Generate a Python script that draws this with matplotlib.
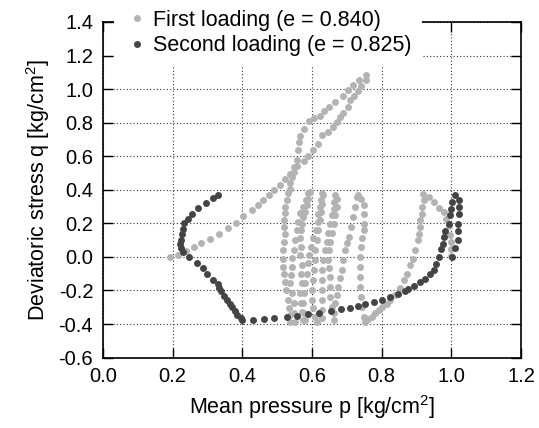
import matplotlib
matplotlib.use("Agg")
import matplotlib.pyplot as plt

plt.rcParams['font.family'] = ['Liberation Sans', 'DejaVu Sans']
plt.rcParams['mathtext.default'] = 'regular'
plt.rcParams['axes.unicode_minus'] = False

# first loading (e = 0.840): p, q pairs
first_ramp_up = [
    (0.193, 0.000), (0.214, 0.014), (0.237, 0.036), (0.260, 0.060), (0.281, 0.082),
    (0.307, 0.107), (0.333, 0.139), (0.358, 0.175), (0.383, 0.205), (0.403, 0.242),
    (0.427, 0.278), (0.445, 0.310), (0.460, 0.342), (0.476, 0.371), (0.492, 0.397),
    (0.507, 0.431), (0.524, 0.467), (0.537, 0.496), (0.547, 0.536), (0.557, 0.576),
    (0.560, 0.635), (0.563, 0.685), (0.567, 0.720), (0.578, 0.765), (0.592, 0.808),
    (0.606, 0.828), (0.622, 0.840), (0.635, 0.869), (0.650, 0.893), (0.665, 0.925),
    (0.688, 0.957), (0.703, 0.992), (0.719, 1.022), (0.736, 1.052), (0.756, 1.082),
]
first_ramp_down = [
    (0.754, 1.052), (0.741, 1.018), (0.732, 0.986), (0.721, 0.960), (0.710, 0.933),
    (0.702, 0.895), (0.690, 0.860), (0.681, 0.833), (0.671, 0.804), (0.660, 0.775),
    (0.645, 0.745), (0.630, 0.724), (0.617, 0.675), (0.604, 0.635), (0.590, 0.600),
    (0.576, 0.570), (0.557, 0.540), (0.547, 0.506), (0.542, 0.476), (0.538, 0.440),
    (0.537, 0.405),
]
first_cycles = [
    # leftmost leg
    (0.530, 0.378), (0.527, 0.340), (0.523, 0.300), (0.523, 0.260), (0.521, 0.219),
    (0.521, 0.179), (0.523, 0.139), (0.521, 0.090), (0.518, 0.040), (0.517, -0.010),
    (0.518, -0.059), (0.520, -0.099), (0.523, -0.148), (0.526, -0.198), (0.530, -0.258),
    (0.535, -0.307), (0.537, -0.347), (0.537, -0.386),
    (0.590, 0.378), (0.582, 0.338), (0.575, 0.298), (0.566, 0.259), (0.561, 0.209),
    (0.556, 0.159), (0.551, 0.100), (0.547, 0.040), (0.544, -0.009), (0.542, -0.059),
    (0.540, -0.109), (0.537, -0.158), (0.542, -0.218), (0.547, -0.277), (0.547, -0.337),
    (0.551, -0.386),
    (0.595, 0.387), (0.590, 0.348), (0.585, 0.308), (0.580, 0.268), (0.575, 0.239),
    (0.571, 0.199), (0.569, 0.159), (0.566, 0.110), (0.569, 0.060), (0.566, 0.010),
    (0.571, -0.049), (0.569, -0.099), (0.571, -0.158), (0.566, -0.218), (0.569, -0.277),
    (0.571, -0.327), (0.573, -0.376),
    (0.628, 0.378), (0.626, 0.338), (0.623, 0.298), (0.618, 0.258), (0.617, 0.209),
    (0.611, 0.159), (0.604, 0.110), (0.597, 0.060), (0.592, 0.010), (0.588, -0.039),
    (0.585, -0.099), (0.580, -0.158), (0.578, -0.218), (0.575, -0.277), (0.578, -0.337),
    (0.580, -0.376),
    (0.633, 0.368), (0.630, 0.318), (0.626, 0.268), (0.623, 0.219), (0.618, 0.159),
    (0.614, 0.100), (0.609, 0.040), (0.609, -0.019), (0.607, -0.079), (0.604, -0.138),
    (0.601, -0.198), (0.599, -0.257), (0.604, -0.307), (0.609, -0.357), (0.614, -0.386),
    (0.666, 0.368), (0.664, 0.328), (0.662, 0.288), (0.657, 0.249), (0.652, 0.199),
    (0.647, 0.140), (0.642, 0.090), (0.638, 0.040), (0.633, -0.019), (0.628, -0.079),
    (0.628, -0.138), (0.628, -0.198), (0.628, -0.257), (0.628, -0.317), (0.630, -0.366),
    (0.671, 0.348), (0.671, 0.298), (0.666, 0.249), (0.664, 0.199), (0.657, 0.140),
    (0.652, 0.090), (0.649, 0.040), (0.647, -0.019), (0.649, -0.069), (0.652, -0.118),
    (0.652, -0.178), (0.652, -0.237), (0.657, -0.297),
    (0.729, 0.358), (0.724, 0.298), (0.719, 0.239), (0.712, 0.179), (0.705, 0.120),
    (0.700, 0.080), (0.695, 0.040), (0.690, -0.019), (0.686, -0.079), (0.681, -0.128),
    (0.676, -0.178), (0.671, -0.228), (0.666, -0.277), (0.664, -0.337), (0.662, -0.376),
    # rightmost leg
    (0.733, 0.367), (0.741, 0.347), (0.748, 0.308), (0.748, 0.258), (0.748, 0.199),
    (0.748, 0.159), (0.745, 0.110), (0.741, 0.060), (0.738, 0.000), (0.738, -0.059),
    (0.738, -0.118), (0.738, -0.178), (0.741, -0.237), (0.743, -0.297), (0.748, -0.357),
    (0.751, -0.386),
]
first_right = [
    (0.762, -0.372), (0.772, -0.357), (0.782, -0.337), (0.791, -0.317), (0.801, -0.297),
    (0.815, -0.278), (0.825, -0.258), (0.839, -0.228), (0.853, -0.188), (0.863, -0.139),
    (0.873, -0.099), (0.882, -0.050), (0.890, -0.010), (0.897, 0.040), (0.903, 0.099),
    (0.906, 0.139), (0.909, 0.179), (0.911, 0.218), (0.916, 0.258), (0.916, 0.298),
    (0.921, 0.341), (0.919, 0.377), (0.935, 0.357), (0.949, 0.327), (0.966, 0.294),
    (0.978, 0.268), (0.986, 0.228), (0.993, 0.183), (0.997, 0.129), (0.999, 0.089),
    (0.999, 0.050), (1.000, 0.005),
]

# second loading (e = 0.825)
second = [
    (0.331, 0.371), (0.317, 0.351), (0.296, 0.323), (0.274, 0.294), (0.257, 0.258),
    (0.245, 0.228), (0.233, 0.202), (0.231, 0.169), (0.226, 0.139), (0.223, 0.103),
    (0.221, 0.079), (0.223, 0.055), (0.231, 0.030), (0.248, 0.000), (0.271, -0.039),
    (0.286, -0.069), (0.300, -0.099), (0.317, -0.135), (0.329, -0.162), (0.334, -0.185),
    (0.340, -0.205), (0.348, -0.230), (0.356, -0.255), (0.364, -0.278), (0.371, -0.300),
    (0.379, -0.325), (0.386, -0.345), (0.395, -0.365), (0.400, -0.378), (0.430, -0.377),
    (0.461, -0.371), (0.490, -0.363), (0.528, -0.361), (0.556, -0.353), (0.590, -0.341),
    (0.619, -0.333), (0.654, -0.321), (0.683, -0.313), (0.710, -0.303), (0.731, -0.293),
    (0.753, -0.282), (0.777, -0.268), (0.801, -0.258), (0.825, -0.238), (0.846, -0.222),
    (0.868, -0.202), (0.877, -0.194), (0.894, -0.174), (0.911, -0.149), (0.925, -0.129),
    (0.940, -0.103), (0.949, -0.079), (0.957, -0.040), (0.964, 0.000), (0.970, 0.050),
    (0.976, 0.079), (0.978, 0.119), (0.983, 0.153), (0.992, 0.198), (0.997, 0.248),
    (1.000, 0.288), (1.002, 0.327), (1.011, 0.371), (1.021, 0.337), (1.021, 0.298),
    (1.021, 0.254), (1.018, 0.198), (1.018, 0.153), (1.018, 0.103), (1.011, 0.054),
    (1.002, 0.000),
]

first = first_ramp_up + first_ramp_down + first_cycles + first_right
first_p = [pt[0] for pt in first]
first_q = [pt[1] for pt in first]
second_p = [pt[0] for pt in second]
second_q = [pt[1] for pt in second]

fig = plt.figure(figsize=(5.39, 4.28), dpi=100)
ax = fig.add_axes([0.191, 0.1645, 0.7756, 0.7841])

ax.plot(first_p, first_q, 'o', color='#b3b3b3', ms=5, mew=0,
        label='First loading (e = 0.840)')
ax.plot(second_p, second_q, 'o', color='#444444', ms=5, mew=0,
        label='Second loading (e = 0.825)')

ax.set_xlim(0, 1.2)
ax.set_ylim(-0.6, 1.4)
ax.set_xticks([0.0, 0.2, 0.4, 0.6, 0.8, 1.0, 1.2])
ax.set_yticks([-0.6, -0.4, -0.2, 0.0, 0.2, 0.4, 0.6, 0.8, 1.0, 1.2, 1.4])
ax.set_xticklabels(['%.1f' % v for v in ax.get_xticks()])
ax.set_yticklabels(['%.1f' % v for v in ax.get_yticks()])
ax.tick_params(direction='in', top=True, right=True, length=7, width=1,
               labelsize=14.5, pad=7)
ax.grid(True, linestyle=(0, (1, 2)), color='0.2', linewidth=0.8)
ax.set_axisbelow(True)
for s in ax.spines.values():
    s.set_linewidth(1.2)

ax.set_xlabel('Mean pressure p [kg/cm$^2$]', fontsize=15.5, labelpad=5)
ax.set_ylabel('Deviatoric stress q [kg/cm$^2$]', fontsize=15.5, labelpad=5)

ax.legend(loc='upper left', bbox_to_anchor=(0.026, 1.068), frameon=True,
          framealpha=1, edgecolor='none', fancybox=False, fontsize=15.5,
          handletextpad=0.1, handlelength=1.2, borderpad=0.5,
          labelspacing=0.2, borderaxespad=0)

plt.savefig('out.png')
